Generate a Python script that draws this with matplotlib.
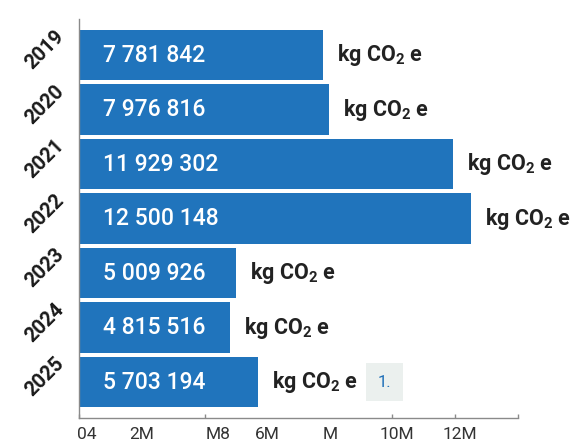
import matplotlib
matplotlib.use("Agg")
import matplotlib.pyplot as plt

# Annual emissions, kg CO2 e
years = ["2019", "2020", "2021", "2022", "2023", "2024", "2025"]
emissions = [7781842, 7976816, 11929302, 12500148, 5009926, 4815516, 5703194]

# axis tick marks every 2M, labels as printed on the axis
tick_values = [0, 2e6, 4e6, 6e6, 8e6, 10e6, 12e6, 14e6]
label_values = [0.25e6, 2.0e6, 4.42e6, 6.0e6, 8.0e6, 10.15e6, 12.15e6]
label_texts = ["04", "2M", "M8", "6M", "M", "10M", "12M"]

footnote = "1."

plt.rcParams["font.family"] = ["Roboto", "DejaVu Sans"]
plt.rcParams["mathtext.default"] = "regular"

BLUE = "#2074bc"

fig = plt.figure(figsize=(5.72, 4.45), dpi=100)
ax = fig.add_axes([0.1386, 0.0607, 0.7664, 0.8963])

pos = list(range(len(years)))
ax.barh(pos, emissions, height=0.93, color=BLUE)
ax.set_xlim(0, 14e6)
ax.set_ylim(len(years) - 1 + 0.66, -0.66)

def fmt(v):
    return f"{v:,}".replace(",", " ")

for i, (yr, v) in enumerate(zip(years, emissions)):
    ax.annotate(fmt(v), xy=(0, i), xycoords="data", xytext=(17.3, 0),
                textcoords="offset points", ha="left", va="center",
                color="white", fontsize=16.5, fontweight="medium")
    ax.annotate("kg CO$_2$ e", xy=(v, i), xytext=(10, 0),
                textcoords="offset points", ha="left", va="center",
                color="#222222", fontsize=15.5, fontweight="bold")
    ax.annotate(yr, xy=(0, i), xycoords=("axes fraction", "data"),
                xytext=(-25, 3.6), textcoords="offset points",
                ha="center", va="center", rotation=45,
                color="#1a1a1a", fontsize=14.5, fontweight="bold")

# footnote marker next to the last row
ax.text(9.75e6, len(years) - 1, footnote, ha="center", va="center",
        color="#1f6fb8", fontsize=12,
        bbox=dict(boxstyle="square,pad=0.7", fc="#ebf0ee", ec="none"))

for s in ["top", "right"]:
    ax.spines[s].set_visible(False)
for s in ["left", "bottom"]:
    ax.spines[s].set_color("#8a8a8a")
    ax.spines[s].set_linewidth(1.0)

ax.set_yticks([])
ax.set_xticks(tick_values, minor=True)
ax.tick_params(axis="x", which="minor", direction="in", length=3,
               color="#8a8a8a", width=1)
ax.set_xticks(label_values)
ax.set_xticklabels(label_texts)
ax.tick_params(axis="x", which="major", length=0, pad=6.5,
               labelsize=12.5, labelcolor="#333333")

fig.savefig("out.png", dpi=100)
